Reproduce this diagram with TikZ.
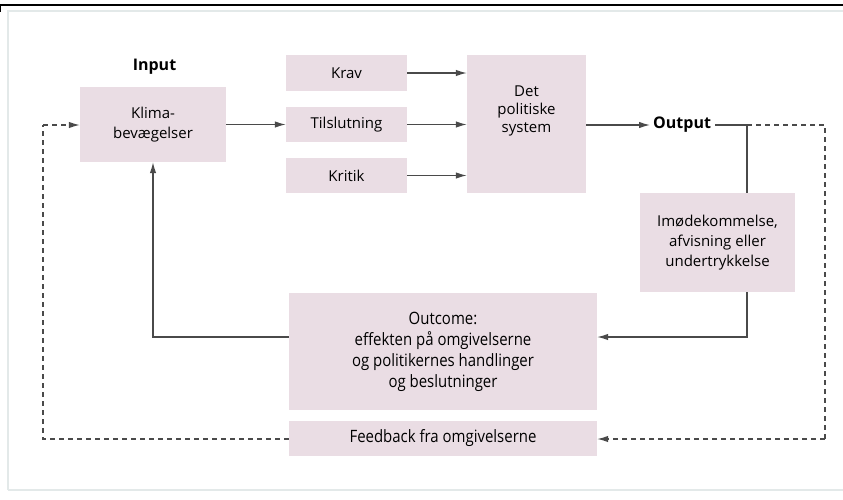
\documentclass[tikz,border=0pt]{standalone}
\usepackage{fontspec}
\setmainfont{Open Sans}
\newfontfamily\narrowfont[FakeStretch=0.88]{Open Sans}
\usetikzlibrary{arrows.meta}

\definecolor{boxpink}{HTML}{EADDE4}
\definecolor{lineclr}{HTML}{4A4A4A}
\definecolor{framegray}{HTML}{E3E9E9}

\tikzset{
  box/.style={fill=boxpink, draw=none, align=center, inner sep=0pt,
    font=\fontsize{15}{20}\selectfont},
  lowbox/.style={box, font=\narrowfont\fontsize{17}{21}\selectfont},
  flow/.style={draw=lineclr, line width=1.2pt, -{Latex[length=11pt,width=6.5pt]}},
  plain/.style={draw=lineclr, line width=1.2pt},
  fb/.style={draw=lineclr, line width=1.2pt, dash pattern=on 5pt off 4pt},
  head/.style={font=\bfseries\fontsize{16}{20}\selectfont}
}

\begin{document}
\begin{tikzpicture}[x=1pt,y=-1pt]
    \useasboundingbox (0,0) rectangle (843,499);
    \draw[framegray,line width=2pt] (8,490) -- (8,11) -- (843,11);
    \draw[framegray,line width=2pt] (8,490) -- (843,490);
    \draw[black,line width=1.5pt] (0,5) -- (843,5);
    \draw[black,line width=1.5pt] (0.7,5) -- (0.7,12);

    % input side
    \node[head] (input) at (154.5,67) {Input};
    \node[box,minimum width=146pt,minimum height=75pt] (klima) at (153,124.5) {Klima-\\bevægelser};

    \node[box,minimum width=121pt,minimum height=36pt] (krav) at (346.5,73) {Krav};
    \node[box,minimum width=121pt,minimum height=35pt] (tilslut) at (346.5,124.5) {Tilslutning};
    \node[box,minimum width=121pt,minimum height=35pt] (kritik) at (346.5,175.5) {Kritik};

    % the system
    \node[box,minimum width=119pt,minimum height=138pt] (system) at (526.5,124) {};
    \node[align=center,inner sep=0pt,font=\fontsize{15}{18}\selectfont] (systxt) at (526.5,111) {Det\\politiske\\system};

    \node[head,anchor=west,inner sep=0pt] (output) at (653,125) {Output};
    \node[box,minimum width=155pt,minimum height=99pt] (imod) at (717.5,242.5) {Imødekommelse,\\afvisning eller\\undertrykkelse};

    % outcome and feedback
    \node[lowbox,minimum width=308pt,minimum height=117pt] (outcome) at (443,351.5) {Outcome:\\effekten på omgivelserne\\og politikernes handlinger\\og beslutninger};
    \node[lowbox,minimum width=308pt,minimum height=35pt] (feedback) at (443,438.5) {Feedback fra omgivelserne};

    \coordinate (outbend) at (747,125);
    \coordinate (outin) at (747,337);
    \coordinate (backleft) at (153,337);
    \coordinate (fbright) at (825,125);
    \coordinate (fbdown) at (825,439);
    \coordinate (fbleft) at (43,439);
    \coordinate (fbup) at (43,125);

    \draw[flow] (klima.east) -- (tilslut.west);
    \draw[flow] (krav.east) -- (krav.east -| system.west);
    \draw[flow] (tilslut.east) -- (tilslut.east -| system.west);
    \draw[flow] (kritik.east) -- (kritik.east -| system.west);
    \draw[flow] (system.east |- output.west) -- ([xshift=-3pt]output.west);

    \draw[plain] ([xshift=4pt]output.east) -- (outbend) -- (outbend |- imod.north);
    \draw[flow] (outbend |- imod.south) -- (outin) -- (outin -| outcome.east);
    \draw[flow] (backleft -| outcome.west) -- (backleft) -- (klima.south);

    \draw[fb] (outbend) -- (fbright) -- (fbdown);
    \draw[fb,-{Latex[length=11pt,width=6.5pt]}] (fbdown) -- (fbdown -| feedback.east);
    \draw[fb] (fbdown -| feedback.west) -- (fbleft) -- (fbup);
    \draw[fb,-{Latex[length=11pt,width=6.5pt]}] (fbup) -- (klima.west |- fbup);
\end{tikzpicture}
\end{document}
